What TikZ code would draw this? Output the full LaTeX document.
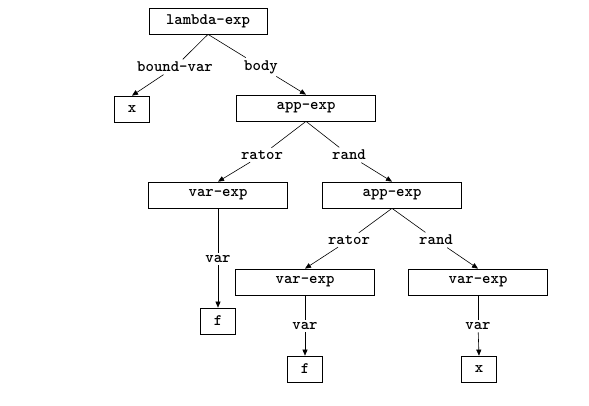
\documentclass[tikz,border=0pt]{standalone}
\usepackage{fontspec}
\usetikzlibrary{arrows.meta}

\begin{document}
\begin{tikzpicture}[x=1pt, y=-1pt,
		font=\ttfamily\bfseries\fontsize{16}{18}\selectfont,
		box/.style={shape=rectangle, draw, line width=0.7pt, minimum height=26pt, inner sep=0pt},
		wide/.style={box, minimum width=139pt},
		leaf/.style={box, minimum width=35pt},
		lbl/.style={inner sep=2.5pt},
		tip/.style={-{Triangle[length=6pt, width=5pt]}}]
			\useasboundingbox (0, 0) rectangle (589, 406);

			\node[box, minimum width=118pt] (lam) at (208, 21){lambda-exp};
			\node[lbl] (bvar) at (175, 67){bound-var};
			\node[lbl] (body) at (261, 67){body};
			\node[leaf] (x1) at (132, 109){x};

			\node[wide] (app1) at (306, 108){app-exp};
			\node[lbl] (rator1) at (262, 155){rator};
			\node[lbl] (rand1) at (349, 155){rand};

			\node[wide] (var1) at (218, 195){var-exp};
			\node[wide] (app2) at (392, 195){app-exp};
			\node[lbl] (v1) at (218, 259){var};
			\node[leaf] (f1) at (218, 321){f};

			\node[lbl] (rator2) at (349, 240){rator};
			\node[lbl] (rand2) at (436, 240){rand};
			\node[wide] (var2) at (305, 282){var-exp};
			\node[wide] (var3) at (478, 282){var-exp};
			\node[lbl] (v2) at (305, 326){var};
			\node[lbl] (v3) at (478, 326){var};
			\node[leaf] (f2) at (305, 369){f};
			\node[leaf] (x2) at (479, 369){x};


			\draw[line width=0.6pt] (lam.south) -- (bvar);
			\draw[line width=0.6pt, tip] (bvar) -- (x1.north);
			\draw[line width=0.6pt] (lam.south) -- (body);
			\draw[line width=0.6pt, tip] (body) -- (app1.north);
			\draw[line width=0.6pt] (app1.south) -- (rator1);
			\draw[line width=0.6pt, tip] (rator1) -- (var1.north);
			\draw[line width=0.6pt] (app1.south) -- (rand1);
			\draw[line width=0.6pt, tip] (rand1) -- (app2.north);
			\draw[line width=0.6pt] (var1.south) -- (v1);
			\draw[line width=0.6pt, tip] (v1) -- (f1.north);
			\draw[line width=0.6pt] (app2.south) -- (rator2);
			\draw[line width=0.6pt, tip] (rator2) -- (var2.north);
			\draw[line width=0.6pt] (app2.south) -- (rand2);
			\draw[line width=0.6pt, tip] (rand2) -- (var3.north);
			\draw[line width=0.6pt] (var2.south) -- (v2);
			\draw[line width=0.6pt, tip] (v2) -- (f2.north);
			\draw[line width=0.6pt] (var3.south) -- (v3);
			\draw[line width=0.6pt, tip] (v3) -- (x2.north);
		\end{tikzpicture}
\end{document}
